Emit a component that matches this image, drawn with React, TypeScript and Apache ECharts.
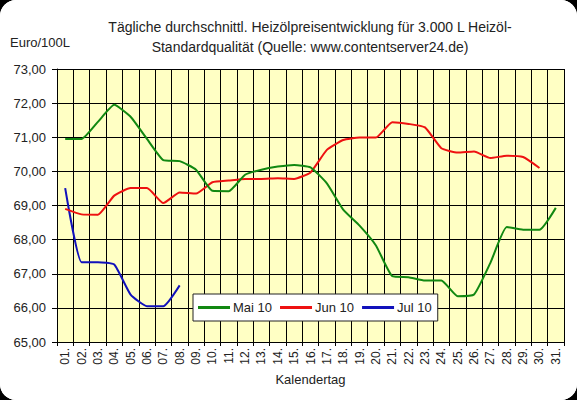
import React, { useRef, useEffect } from 'react';
import * as echarts from 'echarts';

// Kalendertage 01. .. 31.
const days = Array.from({ length: 31 }, (_, i) => String(i + 1).padStart(2, '0') + '.');

// Euro/100L
const mai10 = [
  70.95, 70.95, 71.45, 71.95, 71.6, 70.95, 70.33, 70.3, 70.05, 69.43,
  69.42, 69.9, 70.05, 70.14, 70.19, 70.12, 69.65, 68.88, 68.41, 67.83,
  66.93, 66.9, 66.8, 66.8, 66.34, 66.39, 67.32, 68.37, 68.29, 68.29,
  68.93,
];
const jun10 = [
  68.9, 68.74, 68.73, 69.29, 69.51, 69.51, 69.07, 69.38, 69.35, 69.68,
  69.73, 69.78, 69.78, 69.8, 69.78, 69.97, 70.63, 70.92, 70.99, 70.99,
  71.44, 71.39, 71.29, 70.68, 70.55, 70.58, 70.39, 70.46, 70.42, 70.1,
];
const jul10 = [69.51, 67.34, 67.34, 67.27, 66.39, 66.05, 66.05, 66.66];

const seriesNames = ['Mai 10', 'Jun 10', 'Jul 10'];
const seriesColors = ['#118811', '#ee1111', '#1111bb'];

const FONT = '"Liberation Sans", Arial, sans-serif';

const App: React.FC = () => {
  const chartRef = useRef<HTMLDivElement>(null);

  useEffect(() => {
    if (!chartRef.current) return;
    const chart = echarts.init(chartRef.current, null, { renderer: 'svg' });

    const option = {
      animation: false,
      backgroundColor: '#ffffff',
      textStyle: { fontFamily: FONT },
      title: {
        text: 'Tägliche durchschnittl. Heizölpreisentwicklung für 3.000 L Heizöl-\nStandardqualität (Quelle: www.contentserver24.de)',
        left: 305,
        top: 12,
        textAlign: 'center',
        textStyle: { fontSize: 14, fontWeight: 'normal', color: '#222', lineHeight: 20, fontFamily: FONT },
      },
      graphic: [
        {
          type: 'text',
          left: 10,
          top: 36,
          style: { text: 'Euro/100L', fontSize: 13, fill: '#222', fontFamily: FONT },
        },
      ],
      legend: {
        data: seriesNames,
        left: 193,
        top: 294,
        orient: 'horizontal',
        icon: 'rect',
        backgroundColor: '#ffffff',
        borderColor: '#222',
        borderWidth: 1,
        padding: [7, 6, 7, 5],
        itemWidth: 32,
        itemHeight: 3,
        itemGap: 8,
        textStyle: { fontSize: 13, color: '#222', fontFamily: FONT, padding: [0, 0, 0, -2] },
      },
      grid: {
        left: 57,
        right: 13,
        top: 69,
        bottom: 58,
        containLabel: false,
        show: true,
        backgroundColor: '#ffffc4',
        borderWidth: 0,
      },
      xAxis: {
        type: 'category',
        data: days,
        boundaryGap: true,
        name: 'Kalendertag',
        nameLocation: 'middle',
        nameGap: 31,
        nameTextStyle: { fontSize: 13, color: '#222', fontFamily: FONT },
        axisLine: { show: true, lineStyle: { color: '#000', width: 1 } },
        axisTick: { show: true, interval: 0, length: 4, lineStyle: { color: '#000' } },
        axisLabel: {
          interval: 0,
          rotate: 90,
          margin: 6,
          fontSize: 12,
          color: '#222',
          fontFamily: FONT,
        },
        splitLine: { show: true, interval: 0, lineStyle: { color: '#000', width: 1 } },
      },
      yAxis: {
        type: 'value',
        min: 65,
        max: 73,
        interval: 1,
        axisLine: { show: true, lineStyle: { color: '#000', width: 1 } },
        axisTick: { show: true, length: 5, lineStyle: { color: '#000' } },
        axisLabel: {
          margin: 11,
          fontSize: 13,
          color: '#222',
          fontFamily: FONT,
          formatter: (v: number) => v.toFixed(2).replace('.', ','),
        },
        splitLine: { show: true, lineStyle: { color: '#000', width: 1 } },
      },
      series: [mai10, jun10, jul10].map((d, i) => ({
        name: seriesNames[i],
        type: 'line',
        data: d,
        symbol: 'none',
        smooth: 0.15,
        color: seriesColors[i],
        lineStyle: { color: seriesColors[i], width: 2 },
        z: 3 - i,
      })),
    };

    chart.setOption(option);
    return () => {
      chart.dispose();
    };
  }, []);

  return (
    <div style={{ position: 'fixed', left: 0, top: 0, width: 577, height: 400, background: '#000' }}>
      <div
        ref={chartRef}
        style={{ width: 577, height: 400, borderRadius: 16, overflow: 'hidden', background: '#fff' }}
      />
    </div>
  );
};

export default App;
